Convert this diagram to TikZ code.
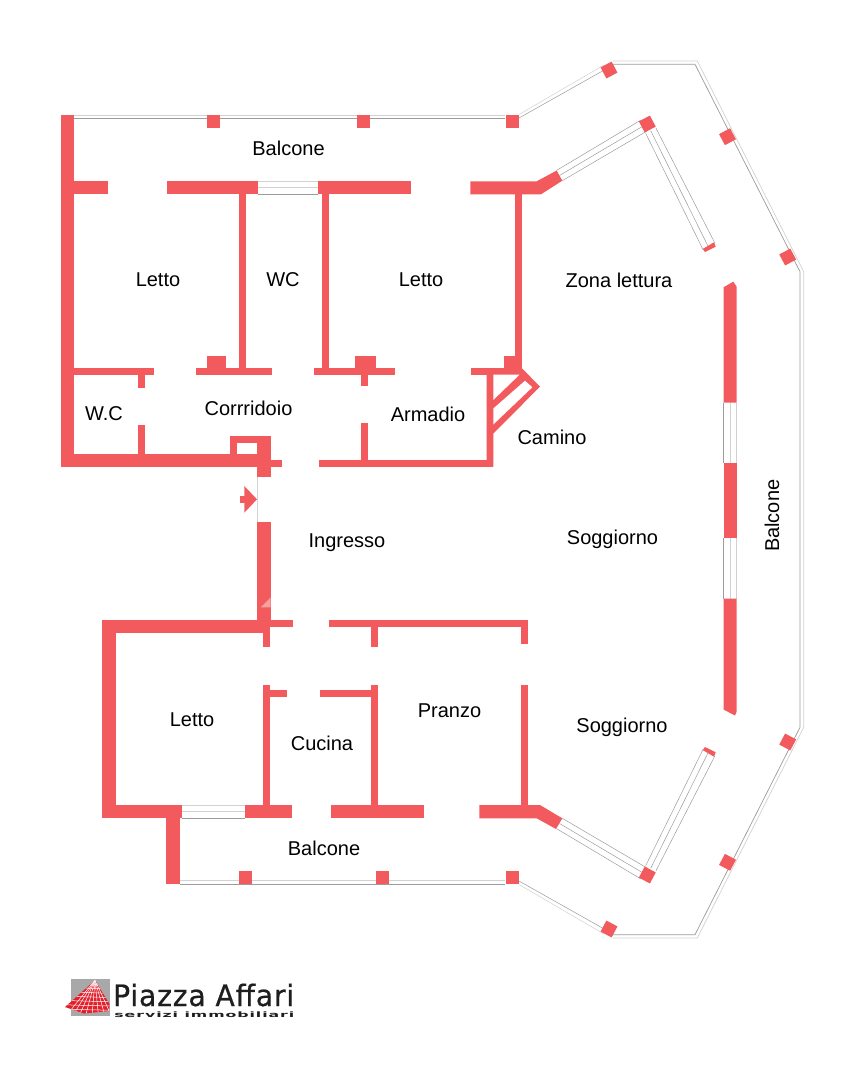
\documentclass[tikz,border=0pt]{standalone}
\usepackage{fontspec}
\setmainfont{Liberation Sans}
\newfontfamily\logofont[LetterSpace=3,FakeBold=0.6]{DejaVu Sans}
\newfontfamily\logobold[LetterSpace=6]{DejaVu Sans Bold}
\definecolor{wallred}{HTML}{F25A5D}
\definecolor{wallpale}{HTML}{F8A0A0}
\definecolor{railgray}{HTML}{9C9C9C}
\definecolor{raillight}{HTML}{D2D2D2}
\definecolor{logogray}{HTML}{A8A8A8}
\definecolor{logored}{HTML}{E2202C}
\definecolor{logotext}{HTML}{1E1E1E}
\tikzset{
  wall/.style={fill=wallred,draw=none},
  rail/.style={draw=railgray,line width=0.7pt},
  raillt/.style={draw=raillight,line width=0.7pt},
  room/.style={font=\fontsize{20}{22}\selectfont,text=black,anchor=base,inner sep=0pt},
  pillar/.style={fill=wallred,draw=none,minimum size=13pt,inner sep=0pt,anchor=center}
}
\begin{document}
\begin{tikzpicture}[x=1pt,y=-1pt]
\useasboundingbox (0,0) rectangle (863,1080);
\fill[white] (0,0) rectangle (863,1080);

% ---- balcony rails
\draw[raillt] (74,115) -- (505,115);
\draw[rail] (74,118.3) -- (505,118.3);
\draw[raillt] (180,880.7) -- (505,880.7);
\draw[rail] (180,884.3) -- (505,884.3);
\draw[raillt,line width=0.5pt] (519,114.5) -- (604,65);
\draw[rail,line width=0.5pt] (519,118) -- (606,69);
\draw[raillt,line width=0.5pt] (519,884.5) -- (604,934);
\draw[rail,line width=0.5pt] (519,881) -- (606,930);
% outer sweep
\draw[raillt] (613,61) -- (697.3,61) -- (803.7,271.7) -- (803.7,727.3) -- (697.3,938) -- (613,938);
\draw[rail] (613,64.3) -- (695,64.3) -- (800,271.7) -- (800,727.3) -- (695,934.7) -- (613,934.7);

% ---- windows
\foreach \a/\b/\c/\d in {556.7/170.3/641/120,559.5/175.5/644/125.5,562.3/180.7/647/131}{
  \draw[rail,line width=0.5pt] (\a,\b) -- (\c,\d);
  \draw[rail,line width=0.5pt] (\a,999-\b) -- (\c,999-\d);
}
\foreach \a/\b/\c/\d in {645.7/133.3/703/249.5,650.7/130.7/708.3/246.7,656/128.3/715/243.3}{
  \draw[rail,line width=0.5pt] (\a,\b) -- (\c,\d);
  \draw[rail,line width=0.5pt] (\a,999-\b) -- (\c,999-\d);
}
\draw[raillt] (258,181.3) -- (317.7,181.3);
\draw[raillt] (258,187.6) -- (317.7,187.6);
\draw[rail] (258,194.3) -- (317.7,194.3);
\draw[raillt] (182.3,805) -- (245,805);
\draw[raillt] (182.3,811.5) -- (245,811.5);
\draw[rail] (182.3,818.3) -- (245,818.3);
\foreach \ya/\yb in {402.7/463.3,538/598.7}{
  \draw[rail] (723.5,\ya) -- (723.5,\yb);
  \draw[raillt] (730,\ya) -- (730,\yb);
  \draw[raillt] (736.5,\ya) -- (736.5,\yb);
}

% ---- upper apartment block
\fill[wall] (61,115) rectangle (74.3,466.7);
\fill[wall] (61,181.3) rectangle (107.7,194.3);
\fill[wall] (167,181.3) rectangle (258,194.3);
\fill[wall] (317.7,181.3) rectangle (411,194.3);
\fill[wall] (470.3,181.3) -- (536.7,181.3) -- (556.7,170.5) -- (562.3,180.7) -- (541,194.3) -- (470.3,194.3) -- cycle;
\fill[wall] (239.3,194) rectangle (246,368);
\fill[wall] (322.3,194) rectangle (329,368);
\fill[wall] (515.3,194) rectangle (522,368);
\fill[wall] (74,367.7) rectangle (154.3,374.5);
\fill[wall] (138.3,374) rectangle (145.1,388);
\fill[wall] (138.3,425) rectangle (145.1,454.5);
\fill[wall] (196.3,367.7) rectangle (271.7,374.5);
\fill[wall] (207.3,356.3) rectangle (225.7,368);
\fill[wall] (313.7,367.7) rectangle (394.7,374.5);
\fill[wall] (355,356.3) rectangle (376,368);
\fill[wall] (361,374) rectangle (368,386);
\fill[wall] (471,367.7) rectangle (522,374.5);
\fill[wall] (504.3,356.3) rectangle (522,368);
% fireplace
\fill[wall] (486.7,374) -- (521.7,368) -- (540,386.7) -- (493.3,433.5) -- (493.3,466.7) -- (486.7,466.7) -- cycle;
\fill[white] (493.3,374.7) -- (519.5,374.7) -- (493.3,400) -- cycle;
\fill[white] (525,380.7) -- (532.3,387.3) -- (493.3,424.5) -- (493.3,408.5) -- cycle;
\fill[wall] (319,460.3) rectangle (493.3,466.7);
\fill[wall] (361.3,423.3) rectangle (368,460.5);
% corridor bottom
\fill[wall] (61,454) rectangle (257.5,466.7);
\fill[wall] (230,436) rectangle (270.7,442.7);
\fill[wall] (230,436) rectangle (236.7,454);
\fill[wall] (257.3,436) rectangle (270.7,476.7);
\fill[wall] (270,460.3) rectangle (281.7,466.7);
% entrance
\draw[draw=raillight,line width=0.4pt] (257.5,476.7) -- (257.5,522);
\fill[wall] (240.3,496) rectangle (245,502.7);
\fill[wall] (244.3,486) -- (257,499.3) -- (244.3,512.7) -- cycle;
\fill[wall] (257.3,521.7) rectangle (270.7,620);
\fill[wallpale] (260.7,607.3) -- (270.7,597.3) -- (270.7,607.3) -- cycle;

% ---- lower block
\fill[wall] (102.3,620) rectangle (263.5,633.3);
\fill[wall] (102.3,620) rectangle (115.7,818.3);
\fill[wall] (102.3,805) rectangle (182.3,818.3);
\fill[wall] (245,805) rectangle (291.7,818.3);
\fill[wall] (331.3,805) rectangle (424.3,818.3);
\fill[wall] (479.3,805) -- (540,805) -- (562.3,818.3) -- (556,829) -- (536.7,818.3) -- (479.3,818.3) -- cycle;
\fill[wall] (263.3,620) rectangle (270.3,646.7);
\fill[wall] (270,620) rectangle (293.3,626.7);
\fill[wall] (329.3,620) rectangle (527.7,626.7);
\fill[wall] (371,626) rectangle (377.7,646.7);
\fill[wall] (521,626) rectangle (527.7,644.3);
\fill[wall] (263.3,685) rectangle (270.3,805);
\fill[wall] (270,690.3) rectangle (287.3,697);
\fill[wall] (320,690.3) rectangle (371.5,697);
\fill[wall] (371,685) rectangle (377.7,805);
\fill[wall] (521,685) rectangle (527.7,805);
\fill[wall] (166.3,818) rectangle (179.7,884.3);

% ---- right wall
\fill[wall] (723.5,287.3) -- (733.3,281.7) -- (736.7,286.7) -- (736.7,402.7) -- (723.5,402.7) -- cycle;
\fill[wall] (723.5,463.3) rectangle (736.7,538);
\fill[wall] (723.5,598.7) -- (736.7,598.7) -- (736.7,711.7) -- (735,715.5) -- (723.5,709.5) -- cycle;
% window end pieces
\fill[wall] (702.7,249) -- (714,242.3) -- (715.7,246.7) -- (705,252) -- cycle;
\fill[wall] (702.7,750) -- (714,756.7) -- (715.7,752.3) -- (705,747) -- cycle;

% ---- pillars
\foreach \n/\px/\py in {pa/213.6/121.6,pb/363.3/121.6,pc/512.2/121.6,pd/245.8/877.6,pe/382.6/877.6,pf/512.2/877.6}{
  \node[pillar] (\n) at (\px,\py) {};
}
\foreach \n/\px/\py in {qa/609/70,qb/727.5/136.7,qc/787.7/257,qd/647.3/124}{
  \node[pillar,minimum size=12.5pt,rotate=28] (\n) at (\px,\py) {};
}
\foreach \n/\px/\py in {ra/609/929,rb/727.5/862.3,rc/787.7/742,rd/647.3/875}{
  \node[pillar,minimum size=12.5pt,rotate=-28] (\n) at (\px,\py) {};
}

% ---- room labels
\node[room] (t1) at (288.5,155.7) {Balcone};
\node[room] (t2) at (158,286) {Letto};
\node[room] (t3) at (283,286) {WC};
\node[room] (t4) at (421,286) {Letto};
\node[room] (t5) at (619,287.3) {Zona lettura};
\node[room] (t6) at (104,420) {W.C};
\node[room] (t7) at (248.5,415.7) {Corrridoio};
\node[room] (t8) at (428,421.7) {Armadio};
\node[room] (t9) at (552,444) {Camino};
\node[room] (t10) at (347,547) {Ingresso};
\node[room] (t11) at (612.5,544) {Soggiorno};
\node[room,rotate=90] (t12) at (779,515.8) {Balcone};
\node[room] (t13) at (192,726) {Letto};
\node[room] (t14) at (449.5,717.3) {Pranzo};
\node[room] (t15) at (322,750.7) {Cucina};
\node[room] (t16) at (622,732.7) {Soggiorno};
\node[room] (t17) at (324,855) {Balcone};

% ---- logo
\fill[logogray] (71,978.7) rectangle (109.5,1016);
\fill[logored] (65,1007) -- (95,980.3) -- (109.5,1004) -- (109,1011) -- (84,1013.5) -- cycle;
\begin{scope}
\clip (65,1007) -- (95,980.3) -- (109.5,1004) -- (109,1011) -- (84,1013.5) -- cycle;
\foreach \k in {0,1,...,7}{
  \draw[white,line width=0.5pt] (95,980) -- ({66+\k*6.5},1016);
}
\foreach \k in {1,2,...,7}{
  \draw[white,line width=0.5pt] (60,{1013.5-\k*4.4}) -- (114,{1014.5-\k*4.2});
}
\end{scope}
\node[anchor=base west,inner sep=0pt,text=logotext,xscale=0.955,font=\logofont\fontsize{29.5}{32}\selectfont] (logoa) at (113,1006) {Piazza Affari};
\node[anchor=base west,inner sep=0pt,text=logotext,xscale=2.1,font=\logobold\fontsize{7.5}{8}\selectfont] (logob) at (114,1017.5) {servizi immobiliari};
\end{tikzpicture}
\end{document}
